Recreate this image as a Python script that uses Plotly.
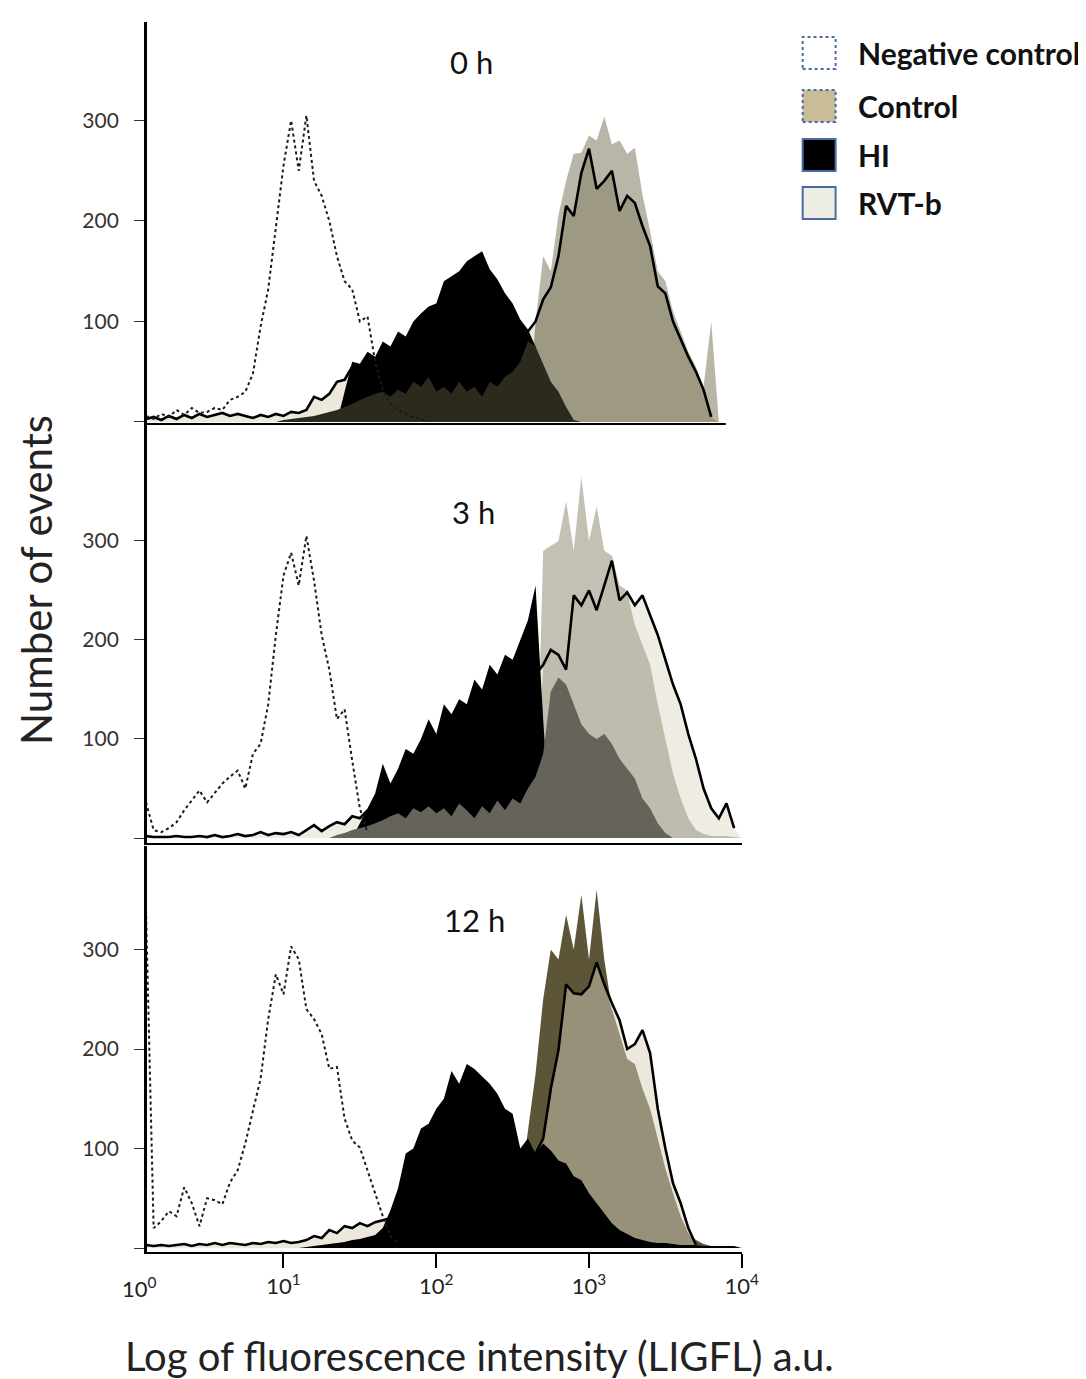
import plotly.graph_objects as go

# ---------------- data (log10 fluorescence grid and event counts) ----------------
EXP = [0.00, 0.05, 0.10, 0.15, 0.20, 0.25, 0.30, 0.35, 0.40, 0.45,
       0.50, 0.55, 0.60, 0.65, 0.70, 0.75, 0.80, 0.85, 0.90, 0.95,
       1.00, 1.05, 1.10, 1.15, 1.20, 1.25, 1.30, 1.35, 1.40, 1.45,
       1.50, 1.55, 1.60, 1.65, 1.70, 1.75, 1.80, 1.85, 1.90, 1.95,
       2.00, 2.05, 2.10, 2.15, 2.20, 2.25, 2.30, 2.35, 2.40, 2.45,
       2.50, 2.55, 2.60, 2.65, 2.70, 2.75, 2.80, 2.85, 2.90, 2.95,
       3.00, 3.05, 3.10, 3.15, 3.20, 3.25, 3.30, 3.35, 3.40, 3.45,
       3.50, 3.55, 3.60, 3.65, 3.70, 3.75, 3.80, 3.85, 3.90, 3.95,
       4.00]

# ---- 0 h ----
NEG_0H = [0, 0, 6, 3, 8, 5, 12, 7, 14, 9,
          10, 14, 12, 22, 25, 30, 48, 95, 132, 195,
          255, 300, 250, 305, 240, 225, 200, 165, 140, 132,
          100, 105, 60, 32, 18, 12, 8, 5, 3, 1,
          0, 0, 0, 0, 0, 0, 0, 0, 0, 0,
          0, 0, 0, 0, 0, 0, 0, 0, 0, 0,
          0, 0, 0, 0, 0, 0, 0, 0, 0, 0,
          0, 0, 0, 0, 0, 0, 0, 0, 0, 0,
          0]
CTRL_0H = [0, 0, 0, 0, 0, 0, 0, 0, 0, 0,
           0, 0, 0, 0, 0, 0, 0, 0, 0, 0,
           0, 0, 0, 0, 0, 0, 0, 0, 0, 0,
           0, 0, 0, 0, 0, 0, 0, 0, 0, 0,
           0, 0, 0, 0, 0, 0, 0, 0, 0, 0,
           0, 0, 0, 100, 165, 150, 206, 240, 267, 268,
           285, 280, 304, 276, 280, 267, 273, 226, 190, 150,
           140, 110, 90, 70, 55, 35, 100, 0, 0, 0,
           0]
RVTB_0H = [0, 0, 3, 5, 2, 6, 3, 7, 4, 8,
           5, 7, 9, 6, 8, 6, 4, 7, 5, 8,
           6, 10, 9, 12, 25, 22, 28, 40, 42, 55,
           54, 56, 58, 60, 62, 64, 66, 68, 70, 72,
           74, 76, 78, 80, 82, 84, 86, 88, 90, 90,
           90, 90, 90, 100, 122, 134, 165, 215, 205, 248,
           272, 232, 240, 250, 210, 225, 218, 195, 175, 135,
           128, 100, 82, 65, 50, 32, 5, 0, 0, 0,
           0]
HI_0H = [0, 0, 0, 0, 0, 0, 0, 0, 0, 0,
         0, 0, 0, 0, 0, 0, 0, 0, 0, 0,
         0, 0, 0, 0, 0, 0, 0, 0, 30, 60,
         58, 70, 65, 80, 75, 90, 85, 100, 108, 115,
         118, 140, 145, 150, 160, 165, 170, 152, 142, 128,
         118, 102, 92, 75, 0, 0, 0, 0, 0, 0,
         0, 0, 0, 0, 0, 0, 0, 0, 0, 0,
         0, 0, 0, 0, 0, 0, 0, 0, 0, 0,
         0]
DARK_0H = [0, 0, 0, 0, 0, 0, 0, 0, 0, 0,
           0, 0, 0, 0, 0, 0, 0, 0, 0, 0,
           2, 3, 4, 5, 6, 8, 10, 12, 15, 18,
           22, 25, 28, 30, 25, 32, 28, 40, 35, 45,
           30, 35, 28, 40, 30, 35, 25, 40, 35, 45,
           50, 60, 80, 75, 58, 40, 30, 15, 2, 0,
           0, 0, 0, 0, 0, 0, 0, 0, 0, 0,
           0, 0, 0, 0, 0, 0, 0, 0, 0, 0,
           0]

# ---- 3 h ----
NEG_3H = [0, 0, 36, 8, 6, 10, 16, 28, 38, 48,
          36, 45, 55, 62, 68, 50, 85, 95, 135, 205,
          265, 288, 255, 305, 260, 205, 170, 120, 130, 78,
          30, 5, 0, 0, 0, 0, 0, 0, 0, 0,
          0, 0, 0, 0, 0, 0, 0, 0, 0, 0,
          0, 0, 0, 0, 0, 0, 0, 0, 0, 0,
          0, 0, 0, 0, 0, 0, 0, 0, 0, 0,
          0, 0, 0, 0, 0, 0, 0, 0, 0, 0,
          0]
CTRL_3H = [0, 0, 0, 0, 0, 0, 0, 0, 0, 0,
           0, 0, 0, 0, 0, 0, 0, 0, 0, 0,
           0, 0, 0, 0, 0, 0, 0, 0, 0, 0,
           0, 0, 0, 0, 0, 0, 0, 0, 0, 0,
           0, 0, 0, 0, 0, 0, 0, 0, 0, 0,
           0, 0, 0, 0, 290, 295, 300, 340, 290, 365,
           300, 335, 290, 285, 255, 250, 215, 195, 175, 135,
           100, 65, 40, 20, 8, 4, 2, 2, 2, 1,
           0]
RVTB_3H = [0, 0, 2, 1, 1, 1, 2, 1, 1, 2,
           1, 3, 1, 2, 4, 2, 3, 6, 3, 5,
           4, 6, 3, 8, 13, 7, 12, 16, 14, 22,
           20, 28, 30, 32, 35, 38, 40, 42, 45, 48,
           50, 55, 60, 65, 70, 80, 90, 100, 110, 120,
           130, 140, 150, 165, 175, 190, 185, 170, 245, 235,
           250, 230, 255, 280, 240, 248, 235, 245, 225, 205,
           180, 155, 135, 105, 80, 50, 30, 20, 35, 10,
           0]
HI_3H = [0, 0, 0, 0, 0, 0, 0, 0, 0, 0,
         0, 0, 0, 0, 0, 0, 0, 0, 0, 0,
         0, 0, 0, 0, 0, 0, 0, 0, 0, 0,
         15, 30, 45, 75, 55, 70, 90, 85, 100, 120,
         105, 135, 125, 140, 135, 160, 150, 175, 165, 185,
         180, 200, 220, 255, 120, 0, 0, 0, 0, 0,
         0, 0, 0, 0, 0, 0, 0, 0, 0, 0,
         0, 0, 0, 0, 0, 0, 0, 0, 0, 0,
         0]
DARK_3H = [0, 0, 0, 0, 0, 0, 0, 0, 0, 0,
           0, 0, 0, 0, 0, 0, 0, 0, 0, 0,
           0, 0, 0, 0, 0, 0, 0, 3, 5, 8,
           10, 12, 15, 18, 22, 25, 20, 30, 26, 32,
           25, 30, 22, 35, 28, 20, 32, 25, 38, 28,
           40, 35, 50, 62, 85, 148, 162, 155, 135, 115,
           105, 100, 105, 95, 80, 70, 60, 40, 30, 15,
           5, 0, 0, 0, 0, 0, 0, 0, 0, 0,
           0]

# ---- 12 h ----
NEG_12H = [0, 0, 340, 20, 27, 37, 32, 61, 45, 22,
           50, 48, 44, 66, 78, 105, 138, 170, 230, 275,
           255, 303, 290, 240, 230, 215, 180, 182, 130, 108,
           101, 78, 55, 32, 12, 5, 0, 0, 0, 0,
           0, 0, 0, 0, 0, 0, 0, 0, 0, 0,
           0, 0, 0, 0, 0, 0, 0, 0, 0, 0,
           0, 0, 0, 0, 0, 0, 0, 0, 0, 0,
           0, 0, 0, 0, 0, 0, 0, 0, 0, 0,
           0]
CTRL_12H = [0, 0, 0, 0, 0, 0, 0, 0, 0, 0,
            0, 0, 0, 0, 0, 0, 0, 0, 0, 0,
            0, 0, 0, 0, 0, 0, 0, 0, 0, 0,
            0, 0, 0, 0, 0, 0, 0, 0, 0, 0,
            0, 0, 0, 0, 0, 0, 0, 0, 0, 0,
            0, 60, 115, 175, 250, 300, 290, 335, 300, 355,
            290, 360, 290, 240, 215, 190, 185, 160, 140, 110,
            80, 55, 32, 15, 8, 4, 2, 1, 0, 0,
            0]
RVTB_12H = [0, 0, 3, 2, 3, 2, 3, 4, 2, 4,
            3, 5, 3, 5, 4, 3, 5, 4, 6, 5,
            7, 5, 6, 8, 12, 10, 18, 15, 22, 20,
            25, 22, 26, 28, 30, 32, 35, 38, 40, 42,
            45, 48, 50, 52, 55, 58, 60, 62, 65, 68,
            70, 75, 85, 95, 110, 160, 199, 265, 256, 255,
            263, 287, 265, 246, 229, 200, 205, 219, 196, 140,
            100, 65, 45, 20, 3, 0, 0, 0, 0, 0,
            0]
HI_12H = [0, 0, 0, 0, 0, 0, 0, 0, 0, 0,
          0, 0, 0, 0, 0, 0, 0, 0, 0, 0,
          0, 0, 0, 1, 2, 3, 4, 5, 6, 8,
          9, 11, 13, 20, 38, 60, 95, 100, 120, 125,
          140, 150, 178, 165, 185, 180, 172, 165, 155, 140,
          135, 100, 110, 95, 105, 98, 88, 85, 72, 68,
          55, 45, 35, 25, 18, 14, 10, 8, 6, 5,
          5, 4, 3, 3, 3, 2, 2, 2, 2, 2,
          0]
DARK_12H = [0] * 81

TIME_LABELS = ["0 h", "3 h", "12 h"]
Y_TICKS = [0, 100, 200, 300]
Y_TICKTEXT = ["", "100", "200", "300"]
X_TICKS = [10, 100, 1000, 10000]
X_TICKTEXT = ["10<sup>1</sup>", "10<sup>2</sup>", "10<sup>3</sup>", "10<sup>4</sup>"]
LEGEND_NAMES = ["Negative control", "Control", "HI", "RVT-b"]

# ---------------- figure ----------------
W, H = 1086, 1379
X = [10 ** e for e in EXP]

# screen position -> figure fraction (calibrated for page offset / capture scale)
SX, OX, OY = 0.986, 6.0, 8.0


def px_x(p):
    return ((p - OX) / SX) / W


def px_y(p):
    return 1 - (p - OY) / H


panels = [
    dict(neg=NEG_0H, ctrl=CTRL_0H, rvtb=RVTB_0H, hi=HI_0H, dark=DARK_0H,
         col=dict(ctrl="#b9b6a8", over="#9d9983", rvtb="#ece9db", dark="#2c291d"),
         top=22, bot=424, yr=[-2, 398], lab=(470, 62)),
    dict(neg=NEG_3H, ctrl=CTRL_3H, rvtb=RVTB_3H, hi=HI_3H, dark=DARK_3H,
         col=dict(ctrl="#c4c1b4", over="#bfbcae", rvtb="#eeece3", dark="#65635a"),
         top=424, bot=843, yr=[-5, 418], lab=(472, 512)),
    dict(neg=NEG_12H, ctrl=CTRL_12H, rvtb=RVTB_12H, hi=HI_12H, dark=DARK_12H,
         col=dict(ctrl="#5c5538", over="#979179", rvtb="#ece9dc", dark="#2c291d"),
         top=846, bot=1252, yr=[-4, 404], lab=(473, 920)),
]

fig = go.Figure()
XDOM = [px_x(145), px_x(741)]
FONT = "Lato, 'Open Sans', sans-serif"

for k, p in enumerate(panels):
    xa = "x" if k == 0 else f"x{k+1}"
    ya = "y" if k == 0 else f"y{k+1}"
    over = [min(a, b) for a, b in zip(p["ctrl"], p["rvtb"])]
    layers = [(p["ctrl"], p["col"]["ctrl"]), (p["rvtb"], p["col"]["rvtb"]),
              (over, p["col"]["over"]), (p["hi"], "#000000"), (p["dark"], p["col"]["dark"])]
    for vals, c in layers:
        fig.add_trace(go.Scatter(x=X, y=vals, xaxis=xa, yaxis=ya, mode="lines",
                                 fill="tozeroy", fillcolor=c, line=dict(width=0, color=c),
                                 showlegend=False, hoverinfo="skip"))
    rl = [v if v > 0 else None for v in p["rvtb"]]
    fig.add_trace(go.Scatter(x=X, y=rl, xaxis=xa, yaxis=ya, mode="lines",
                             line=dict(width=2.6, color="#000000"), showlegend=False,
                             hoverinfo="skip"))
    nl = [v if v > 0 else None for v in p["neg"]]
    fig.add_trace(go.Scatter(x=X, y=nl, xaxis=xa, yaxis=ya, mode="lines",
                             line=dict(width=2.0, color="#1a1a1a", dash="dot"),
                             showlegend=False, hoverinfo="skip"))

    last = (k == 2)
    xkw = dict(type="log", range=[0.105, 4.0], domain=XDOM, showgrid=False, zeroline=False,
               anchor=ya, showline=(k != 0), linecolor="#000", linewidth=2)
    if last:
        xkw.update(ticks="outside", ticklen=14, tickwidth=1.5, tickcolor="#000",
                   tickvals=X_TICKS, ticktext=X_TICKTEXT, ticklabelstandoff=0,
                   tickfont=dict(family=FONT, size=22, color="#222"))
    else:
        xkw.update(showticklabels=False, ticks="")
    ykw = dict(range=p["yr"], domain=[px_y(p["bot"]), px_y(p["top"])], showgrid=False,
               zeroline=False, anchor=xa, showline=True, linecolor="#000", linewidth=2.5,
               ticks="outside", ticklen=10, tickwidth=1.2, tickcolor="#333",
               tickvals=Y_TICKS, ticktext=Y_TICKTEXT, ticklabelstandoff=11,
               tickfont=dict(family=FONT, size=21, color="#333"))
    fig.update_layout(**{("xaxis" if k == 0 else f"xaxis{k+1}"): xkw,
                         ("yaxis" if k == 0 else f"yaxis{k+1}"): ykw})
    fig.add_annotation(x=px_x(p["lab"][0]), y=px_y(p["lab"][1]), xref="paper", yref="paper",
                       text=TIME_LABELS[k], showarrow=False, xanchor="center", yanchor="middle",
                       font=dict(family=FONT, size=31, color="#111"))

# panel 1 baseline (shorter than the others)
fig.add_shape(type="line", xref="paper", yref="paper", x0=px_x(143), x1=px_x(725),
              y0=px_y(424), y1=px_y(424), line=dict(color="#000", width=2))

# 10^0 label
fig.add_annotation(x=px_x(138), y=px_y(1287), xref="paper", yref="paper",
                   text="10<sup>0</sup>", showarrow=False, xanchor="center", yanchor="middle",
                   font=dict(family=FONT, size=22, color="#222"))

# axis titles
fig.add_annotation(x=px_x(34), y=px_y(580), xref="paper", yref="paper", text="Number of events",
                   textangle=-90, showarrow=False, xanchor="center", yanchor="middle",
                   font=dict(family=FONT, size=42, color="#222"))
fig.add_annotation(x=px_x(478), y=px_y(1356), xref="paper", yref="paper",
                   text="Log of fluorescence intensity (LIGFL) a.u.", showarrow=False,
                   xanchor="center", yanchor="middle", font=dict(family=FONT, size=40, color="#222"))

# legend (manual swatches)
LEG_FILL = ["#ffffff", "#c8bd97", "#000000", "#eeede4"]
LEG_DASH = ["dot", "dot", "solid", "solid"]
LEG_Y = [53, 106, 155, 203]
for name, fc, dsh, cy in zip(LEGEND_NAMES, LEG_FILL, LEG_DASH, LEG_Y):
    fig.add_shape(type="rect", xref="paper", yref="paper", x0=px_x(802), x1=px_x(835),
                  y0=px_y(cy + 16), y1=px_y(cy - 16), fillcolor=fc,
                  line=dict(color="#4a6ba0", width=2, dash=dsh))
    fig.add_annotation(x=px_x(855), y=px_y(cy), xref="paper", yref="paper", text=f"<b>{name}</b>",
                       showarrow=False, xanchor="left", yanchor="middle",
                       font=dict(family=FONT, size=30, color="#111"))

fig.update_layout(width=W, height=H, margin=dict(l=0, r=0, t=0, b=0),
                  paper_bgcolor="white", plot_bgcolor="white", showlegend=False)

fig.write_html("out.html")
